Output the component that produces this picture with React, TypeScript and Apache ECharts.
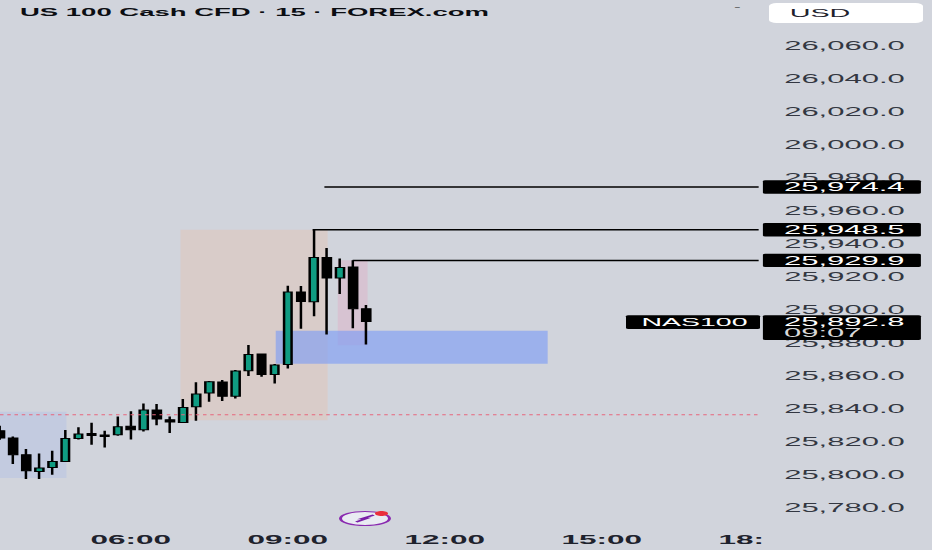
import React, { useEffect, useRef } from "react";
import * as echarts from "echarts";

const opens = [25826.7,25822.2,25812.1,25802.0,25804.4,25808.0,25822.0,25825.0,25824.1,25824.2,25829.3,25827.3,25839.2,25833.3,25831.7,25841.2,25849.5,25856.2,25847.5,25863.0,25873.1,25860.8,25866.8,25910.7,25904.8,25931.7,25919.2,25925.9,25900.6];
const closes = [25822.2,25812.1,25802.4,25804.0,25808.0,25822.0,25824.7,25823.8,25823.2,25829.1,25827.3,25839.2,25833.8,25832.0,25840.8,25848.9,25856.4,25847.5,25862.8,25872.9,25860.8,25866.5,25910.7,25905.0,25931.7,25919.2,25925.6,25900.6,25892.8];
const lows = [25821.2,25806.5,25797.4,25797.4,25800.0,25808.0,25821.4,25818.2,25816.5,25823.6,25821.4,25826.2,25829.9,25825.3,25831.7,25832.7,25844.2,25844.7,25846.2,25859.8,25859.4,25855.3,25864.4,25888.5,25896.0,25885.0,25909.5,25888.7,25878.9];
const highs = [25829.7,25823.2,25815.6,25812.9,25814.5,25827.1,25828.7,25831.5,25826.7,25835.2,25838.4,25843.2,25842.8,25835.2,25845.9,25856.0,25856.8,25857.4,25863.5,25878.6,25873.5,25867.1,25914.5,25914.4,25948.5,25937.4,25931.1,25929.9,25902.8];

// x positions are counted in 15-minute steps from 00:00
const firstBarStep = 14;
const lastChartStep = 72;
const timeLabels: Record<number, string> = { 24: "06:00", 36: "09:00", 48: "12:00", 60: "15:00", 72: "18:" };
const timeSteps = [24, 36, 48, 60, 72];

const levels = [
  { price: 25974.4, fromStep: 38.8 },
  { price: 25948.5, fromStep: 37.9 },
  { price: 25929.9, fromStep: 40.96 },
];
const lastPrice = 25892.8;
const countdown = "09:07";
const symbolName = "NAS100";
const dottedLevel = 25836.4;

const zones = [
  { x: [14, 19.08], y: [25838.2, 25798], color: "rgba(178,194,228,0.45)" },
  { x: [27.8, 39.05], y: [25948.5, 25833], color: "rgba(232,190,170,0.36)" },
  { x: [39.82, 42.1], y: [25930, 25878.5], color: "rgba(226,160,190,0.32)" },
  { x: [35.08, 55.87], y: [25887.3, 25867.3], color: "rgba(122,155,245,0.62)" },
];

// The source picture is stretched sideways by SX. The chart is laid out K times larger
// than that and scaled back, so that pixel snapping stays invisible.
const SX = 2.5;
const K = 4;
const FONT = "Liberation Sans";
const fmt = (v: number) => v.toLocaleString("en-US", { minimumFractionDigits: 1, maximumFractionDigits: 1 });

function tagItem(params: any, api: any) {
  const kind = api.value(2);
  const price = api.value(1);
  const p = api.coord([lastChartStep, price]);
  const x0 = p[0] + 1.7 * K;
  const w = 63.2 * K;
  const textX = 313.6 * K;
  const base = { fontFamily: FONT, fontSize: 12.4 * K, fill: "#fff" };
  if (kind === 0) {
    return {
      type: "group",
      children: [
        { type: "rect", shape: { x: x0, y: p[1] - 6.7 * K, width: w, height: 13.4 * K, r: K }, style: { fill: "#000" } },
        { type: "text", style: { ...base, text: fmt(price), x: textX, y: p[1], verticalAlign: "middle" } },
      ],
    };
  }
  return {
    type: "group",
    children: [
      { type: "rect", shape: { x: x0, y: p[1] - 6.3 * K, width: w, height: 24.7 * K, r: K }, style: { fill: "#000" } },
      { type: "text", style: { ...base, text: fmt(price), x: textX, y: p[1], verticalAlign: "middle" } },
      { type: "text", style: { ...base, text: countdown, x: textX, y: p[1] + 11.6 * K, verticalAlign: "middle", fill: "#d8d8d8" } },
      { type: "rect", shape: { x: 250.4 * K, y: p[1] - 6.3 * K, width: 53.6 * K, height: 13.7 * K, r: K }, style: { fill: "#000" } },
      { type: "text", style: { ...base, fontSize: 11.4 * K, text: symbolName, x: 277.8 * K, y: p[1] + 0.6 * K, align: "center", verticalAlign: "middle" } },
    ],
  };
}

export default function App() {
  const ref = useRef<HTMLDivElement>(null);
  useEffect(() => {
    document.body.style.margin = "0";
    document.body.style.background = "#d1d4dc";
    document.body.style.overflow = "hidden";
    const chart = echarts.init(ref.current!, null, { renderer: "svg" });
    const candles = opens.map((o, i) => [firstBarStep + i, o, closes[i], lows[i], highs[i]]);
    chart.setOption({
      animation: false,
      backgroundColor: "#d1d4dc",
      grid: { left: 0, top: 45.7 * K, width: 303.46 * K, height: 462 * K },
      xAxis: {
        type: "value",
        min: firstBarStep,
        max: lastChartStep,
        splitLine: { show: false },
        axisLine: { show: false },
        axisTick: { show: false },
        axisLabel: {
          customValues: timeSteps,
          margin: 25.5 * K,
          color: "#1e222d",
          fontFamily: FONT,
          fontSize: 12.6 * K,
          fontWeight: "bold",
          formatter: (v: number) => {
            const t = timeLabels[v];
            if (!t) return "";
            return t.length < 5 ? `{cut|${t}}` : t;
          },
          rich: { cut: { padding: [0, 14 * K, 0, 0], color: "#1e222d", fontFamily: FONT, fontSize: 12.6 * K, fontWeight: "bold" } },
        },
      },
      yAxis: {
        type: "value",
        position: "right",
        min: 25780,
        max: 26060,
        interval: 20,
        splitLine: { show: false },
        axisLine: { show: false },
        axisTick: { show: false },
        axisLabel: {
          margin: 10.2 * K,
          color: "#333741",
          fontFamily: FONT,
          fontSize: 12.4 * K,
          formatter: (v: number) => fmt(v),
        },
      },
      series: [
        {
          type: "candlestick",
          data: candles,
          barWidth: 3.3 * K,
          itemStyle: { color: "#109c82", color0: "#000", borderColor: "#000", borderColor0: "#000", borderWidth: K },
          markArea: {
            silent: true,
            data: zones.map((z) => [
              { xAxis: z.x[0], yAxis: z.y[0], itemStyle: { color: z.color } },
              { xAxis: z.x[1], yAxis: z.y[1] },
            ]),
          },
          markLine: {
            silent: true,
            symbol: "none",
            label: { show: false },
            data: [
              ...levels.map((l) => [
                { coord: [l.fromStep, l.price], lineStyle: { color: "#000", width: 1.6 * K, type: "solid" } },
                { coord: [lastChartStep, l.price] },
              ]),
              [
                { coord: [firstBarStep, dottedLevel], lineStyle: { color: "#e8667c", width: K, type: [1.4 * K, 1.5 * K] } },
                { coord: [lastChartStep, dottedLevel] },
              ],
            ],
          },
        },
        {
          type: "custom",
          z: 10,
          silent: true,
          coordinateSystem: "cartesian2d",
          encode: { x: 0, y: 1 },
          renderItem: tagItem,
          data: [...levels.map((l) => [lastChartStep, l.price, 0]), [lastChartStep, lastPrice, 1]],
        },
      ],
      graphic: [
        { type: "text", x: 8 * K, y: 12.5 * K, style: { text: "US 100 Cash CFD · 15 · FOREX.com", fontFamily: FONT, fontSize: 11 * K, fontWeight: "bold", fill: "#0b0d12", verticalAlign: "middle" } },
        { type: "text", x: 293.6 * K, y: 6.5 * K, style: { text: "-", fontFamily: FONT, fontSize: 8 * K, fill: "#333", verticalAlign: "middle" } },
        { type: "rect", shape: { x: 307.6 * K, y: 3 * K, width: 61.6 * K, height: 20 * K, r: 3 * K }, style: { fill: "#fff" } },
        { type: "text", x: 328 * K, y: 13 * K, style: { text: "USD", fontFamily: FONT, fontSize: 11.5 * K, fill: "#1e222d", align: "center", verticalAlign: "middle" } },
        { type: "ellipse", shape: { cx: 146 * K, cy: 518.5 * K, rx: 9.8 * K, ry: 7 * K }, style: { fill: "#e9ebf2", stroke: "#8a2bb0", lineWidth: 1.2 * K } },
        { type: "polyline", shape: { points: [[142.5 * K, 522 * K], [146.5 * K, 518.5 * K], [145 * K, 518.5 * K], [149.5 * K, 515 * K]] }, style: { stroke: "#7a1fa8", lineWidth: 1.5 * K, fill: "none" } },
        { type: "ellipse", shape: { cx: 152.6 * K, cy: 513.5 * K, rx: 2.6 * K, ry: 2.5 * K }, style: { fill: "#ea2f3c" } },
      ],
    });
    return () => chart.dispose();
  }, []);
  return (
    <div
      ref={ref}
      style={{
        position: "absolute",
        left: 0,
        top: 0,
        width: (932 / SX) * K,
        height: 550 * K,
        transform: `scale(${SX / K}, ${1 / K})`,
        transformOrigin: "0 0",
      }}
    />
  );
}
